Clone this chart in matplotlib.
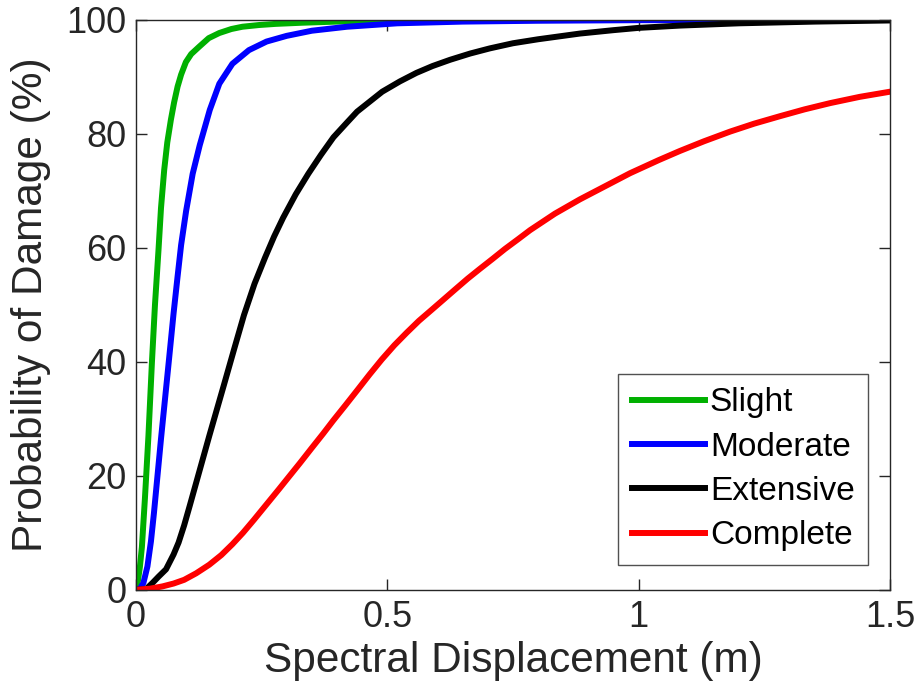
import matplotlib
matplotlib.use("Agg")
import matplotlib.pyplot as plt

plt.rcParams['font.family'] = ['Liberation Sans', 'DejaVu Sans']

# Data (spectral displacement in m, probability in %)
slight_x = [0, 0.004, 0.008, 0.012, 0.018, 0.025, 0.032, 0.038, 0.045, 0.05,
            0.0564, 0.0625, 0.0697, 0.076, 0.083, 0.09, 0.0995, 0.11, 0.126, 0.145,
            0.166, 0.19, 0.212, 0.245, 0.278, 0.33, 0.4, 0.5, 0.7, 1.0, 1.5]
slight_y = [0, 1.5, 4, 7.5, 16, 27, 40, 50, 59.6, 67,
            73.7, 78.5, 82.5, 85.5, 88.3, 90.4, 92.6, 94, 95.3, 96.8,
            97.7, 98.4, 98.8, 99.1, 99.3, 99.5, 99.7, 99.85, 99.95, 100, 100]

moderate_x = [0, 0.008, 0.015, 0.023, 0.03, 0.036, 0.043, 0.05, 0.058, 0.066,
              0.075, 0.083, 0.09, 0.1, 0.113, 0.127, 0.147, 0.166, 0.192, 0.225,
              0.26, 0.3, 0.35, 0.42, 0.52, 0.65, 0.8, 1.0, 1.5]
moderate_y = [0, 0.2, 1.2, 4.1, 8.5, 13.5, 20, 26.5, 33.5, 40.5,
              48.5, 55, 60.5, 66.5, 73, 78, 84.2, 88.8, 92.3, 94.7,
              96.2, 97.2, 98.1, 98.8, 99.4, 99.7, 99.85, 99.95, 100]

extensive_x = [0, 0.02, 0.033, 0.045, 0.06, 0.075, 0.085, 0.096, 0.107, 0.12,
               0.133, 0.146, 0.16, 0.175, 0.196, 0.215, 0.236, 0.257, 0.275, 0.293,
               0.318, 0.343, 0.368, 0.393, 0.42, 0.44, 0.47, 0.49, 0.525, 0.558,
               0.59, 0.625, 0.665, 0.704, 0.75, 0.8, 0.883, 0.95, 1.0, 1.082,
               1.2, 1.35, 1.5]
extensive_y = [0, 0.1, 1.2, 2.3, 3.6, 6.2, 8.3, 11.3, 14.7, 18.8,
               22.9, 27.0, 31.3, 35.9, 42.4, 48.2, 53.7, 58.3, 62.0, 65.3,
               69.4, 73.0, 76.3, 79.4, 82, 83.9, 86, 87.4, 89.2, 90.7,
               91.9, 93.0, 94.1, 95.0, 95.9, 96.6, 97.6, 98.2, 98.6, 99.0,
               99.4, 99.7, 99.9]

complete_x = [0, 0.028, 0.053, 0.075, 0.096, 0.12, 0.146, 0.17, 0.192, 0.213,
              0.235, 0.26, 0.285, 0.305, 0.326, 0.35, 0.3725, 0.3925, 0.417, 0.442,
              0.465, 0.489, 0.514, 0.5385, 0.563, 0.588, 0.605, 0.635, 0.66, 0.684,
              0.71, 0.734, 0.76, 0.784, 0.8335, 0.883, 0.933, 0.983, 1.04, 1.082,
              1.13, 1.182, 1.23, 1.281, 1.33, 1.381, 1.44, 1.5]
complete_y = [0, 0.2, 0.6, 1.1, 1.75, 2.9, 4.4, 6.1, 8.0, 10,
              12.3, 15.0, 17.7, 19.9, 22.2, 24.9, 27.4, 29.7, 32.4, 35.2,
              37.8, 40.4, 42.9, 45.1, 47.2, 49.1, 50.4, 52.7, 54.6, 56.3,
              58.1, 59.8, 61.5, 63.1, 66.0, 68.5, 70.8, 73.1, 75.4, 77.0,
              78.7, 80.4, 81.8, 83.1, 84.3, 85.4, 86.5, 87.4]

labels = ["Slight", "Moderate", "Extensive", "Complete"]
colors = ["#00b000", "#0000ff", "#000000", "#ff0000"]

fig = plt.figure(figsize=(9.18, 6.98), dpi=100)
ax = fig.add_axes([0.148, 0.155, 0.8215, 0.8165])

series = [(slight_x, slight_y), (moderate_x, moderate_y),
          (extensive_x, extensive_y), (complete_x, complete_y)]
for (xs, ys), lab, c in zip(series, labels, colors):
    ax.plot(xs, ys, color=c, lw=4.3, label=lab, solid_joinstyle="round")

ax.set_xlim(0, 1.5)
ax.set_ylim(0, 100)
ax.set_xticks([0, 0.5, 1, 1.5])
ax.set_xticklabels(["0", "0.5", "1", "1.5"])
ax.set_yticks(range(0, 101, 20))

ax.tick_params(direction="in", length=8, width=1, labelsize=26, colors="#262626",
               top=True, right=True, pad=7)
for s in ax.spines.values():
    s.set_color("#262626")
    s.set_linewidth(1)

ax.set_xlabel("Spectral Displacement (m)", fontsize=30.5, color="#262626", labelpad=5)
ax.set_ylabel("Probability of Damage (%)", fontsize=30.5, color="#262626", labelpad=11)

leg = ax.legend(loc="lower right", fontsize=24, frameon=True, fancybox=False,
                edgecolor="#262626", handlelength=2.2, handletextpad=0.15,
                labelspacing=0.4, borderpad=0.4, borderaxespad=0,
                bbox_to_anchor=(0.9708, 0.0439))
leg.get_frame().set_linewidth(1)

fig.savefig("out.png", dpi=100)
